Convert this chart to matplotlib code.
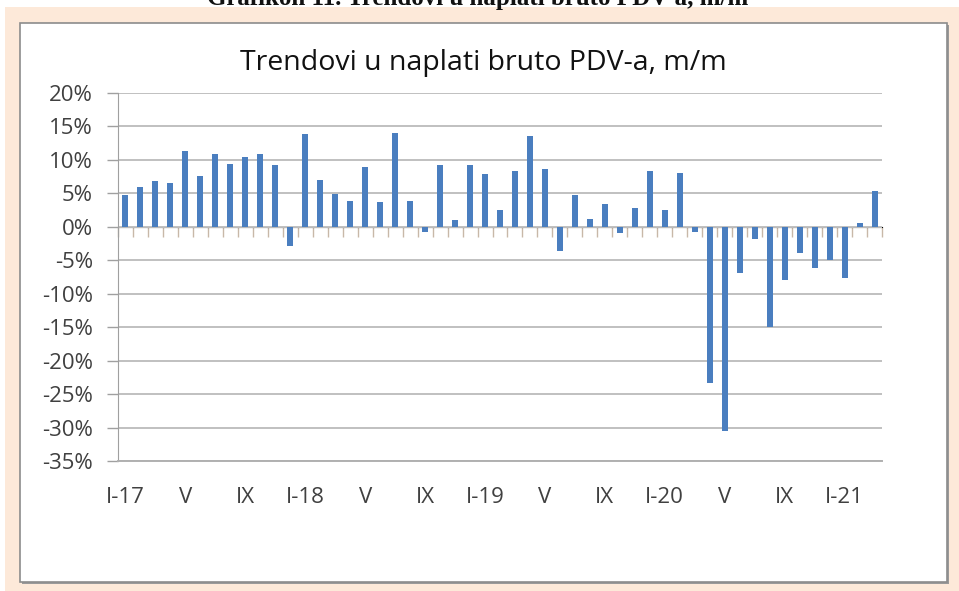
import matplotlib
matplotlib.use("Agg")
from matplotlib import pyplot as plt
from matplotlib.patches import Rectangle
import numpy as np

# monthly m/m change of gross VAT collection, Jan 2017 - Mar 2021 (%)
vals_2017 = [4.8, 5.9, 6.9, 6.6, 11.4, 7.6, 10.9, 9.4, 10.5, 10.9, 9.3, -2.8]
vals_2018 = [13.9, 7.0, 4.9, 3.9, 8.9, 3.7, 14.0, 3.9, -0.8, 9.3, 1.0, 9.3]
vals_2019 = [7.9, 2.5, 8.4, 13.5, 8.6, -3.6, 4.8, 1.2, 3.4, -0.9, 2.8, 8.3]
vals_2020 = [2.5, 8.0, -0.7, -23.4, -30.5, -6.9, -1.8, -15.0, -7.9, -3.9, -6.1, -4.9]
vals_2021 = [-7.7, 0.5, 5.4]
values = vals_2017 + vals_2018 + vals_2019 + vals_2020 + vals_2021

tick_labels = ["I-17", "V", "IX", "I-18", "V", "IX", "I-19", "V", "IX",
               "I-20", "V", "IX", "I-21"]
y_ticks = [20, 15, 10, 5, 0, -5, -10, -15, -20, -25, -30, -35]

title = "Trendovi u naplati bruto PDV-a, m/m"
caption = "Grafikon 11. Trendovi u naplati bruto PDV-a, m/m"

plt.rcParams['font.family'] = ['Open Sans', 'DejaVu Sans']

W, H = 959, 591
fig = plt.figure(figsize=(W / 100, H / 100), dpi=100)
fig.patch.set_facecolor("white")

# peach frame and white chart box
fig.patches.append(Rectangle((5 / W, 0), 1, 1 - 7 / H, transform=fig.transFigure,
                             facecolor="#fde9d9", edgecolor="none", zorder=0))
fig.patches.append(Rectangle((22 / W, 7 / H), 927 / W, 559 / H, transform=fig.transFigure,
                             facecolor="#9a9a9a", edgecolor="none", zorder=0.5))
fig.patches.append(Rectangle((20 / W, 9 / H), 927 / W, 559 / H, transform=fig.transFigure,
                             facecolor="white", edgecolor="#8c8c8c", linewidth=1.2, zorder=1))

# caption above the frame, cut by the top edge as in the source page
fig.text(478 / W, 1 - 5 / H, caption, ha="center", va="baseline",
         family="Liberation Serif", fontweight="bold", fontsize=18, color="#111111")

ax = fig.add_axes([118 / W, 130 / H, 764 / W, 368 / H])
ax.set_zorder(2)
ax.set_facecolor("none")

x = np.arange(len(values))
ax.bar(x, values, width=0.4, color="#4a7ebf", zorder=3)

ax.set_xlim(-0.5, len(values) - 0.5)
ax.set_ylim(-35, 20)
ax.set_yticks(y_ticks)
ax.set_yticklabels([f"{t}%" for t in y_ticks], fontsize=16, color="#404040")
ax.yaxis.grid(True, color="#c0c0c0", linewidth=1.4, zorder=1)
ax.tick_params(axis="y", length=8, color="#a0a0a0", width=1, pad=10)

ax.set_xticks(x[::4])
ax.set_xticklabels(tick_labels, fontsize=16, color="#404040")
ax.tick_params(axis="x", length=0, pad=19)

for side in ["top", "right"]:
    ax.spines[side].set_visible(False)
ax.spines["left"].set_color("#a0a0a0")
ax.spines["bottom"].set_color("#b0b0b0")
ax.spines["bottom"].set_linewidth(1.4)

# category axis at zero with tick marks between months, pointing down
zero_ax = ax.secondary_xaxis(35 / 55)
zero_ax.set_xticks(np.arange(len(values) + 1) - 0.5)
zero_ax.set_xticklabels([])
zero_ax.xaxis.set_ticks_position("bottom")
zero_ax.tick_params(axis="x", which="both", direction="out", length=7,
                    color="#c8b8a8", width=1, bottom=True, top=False)
zero_ax.spines["bottom"].set_color("#c8b0a0")
zero_ax.spines["bottom"].set_linewidth(1.2)

fig.text(483 / W, 1 - 63 / H, title, ha="center", va="center",
         fontsize=20.5, color="#111111", zorder=5)

fig.savefig("out.png", dpi=100)
